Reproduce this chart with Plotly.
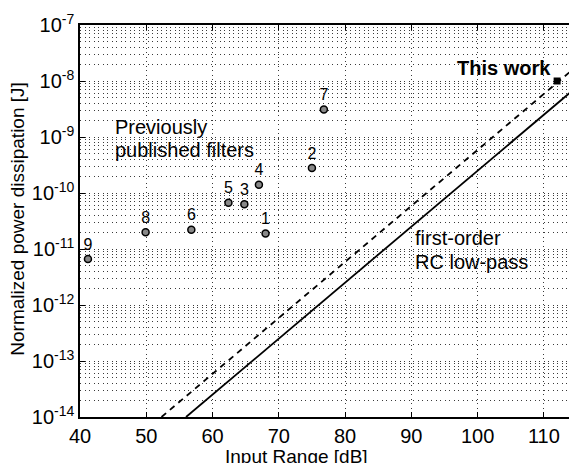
import plotly.graph_objects as go

# Previously published filters
pub_labels = ["1", "2", "3", "4", "5", "6", "7", "8", "9"]
pub_x = [68, 75, 64.8, 67, 62.4, 56.8, 76.8, 49.9, 41.2]
pub_y = [1.9e-11, 2.8e-10, 6.3e-11, 1.4e-10, 6.7e-11, 2.2e-11, 3.1e-9, 2.0e-11, 6.6e-12]

# This work
tw_x = [112]
tw_y = [1.0e-8]

# First-order RC low-pass bound (solid) and dashed line, endpoints
rc_x = [56, 115]
rc_y = [1.0e-14, 7.9e-9]
dash_x = [52.3, 115]
dash_y = [1.0e-14, 1.86e-8]

x_ticks = [40, 50, 60, 70, 80, 90, 100, 110]
y_ticks = [1e-14, 1e-13, 1e-12, 1e-11, 1e-10, 1e-9, 1e-8, 1e-7]
y_ticktext = ["10<sup>-14</sup>", "10<sup>-13</sup>", "10<sup>-12</sup>", "10<sup>-11</sup>",
              "10<sup>-10</sup>", "10<sup>-9</sup>", "10<sup>-8</sup>", "10<sup>-7</sup>"]

FONT = "Liberation Sans, Arial, Helvetica, sans-serif"
GRID = "#3a3a3a"
GDASH = "1px,3.5px"

# page body has an 8px default margin; figure size/margins compensate for it
fig = go.Figure()
fig.add_trace(go.Scatter(x=rc_x, y=rc_y, mode="lines",
                         line=dict(color="black", width=1.8), showlegend=False))
fig.add_trace(go.Scatter(x=dash_x, y=dash_y, mode="lines",
                         line=dict(color="black", width=1.8, dash="6px,5px"), showlegend=False))
fig.add_trace(go.Scatter(x=pub_x, y=pub_y, mode="markers+text",
                         text=pub_labels, textposition="top center",
                         textfont=dict(size=16, color="black", family=FONT),
                         marker=dict(symbol="circle", size=7, color="#888",
                                     line=dict(color="black", width=1.5)),
                         showlegend=False))
fig.add_trace(go.Scatter(x=tw_x, y=tw_y, mode="markers",
                         marker=dict(symbol="square", size=7, color="black"),
                         showlegend=False))

def note(x, y, text, anchor="left", bold=False):
    fig.add_annotation(x=x, y=y, xref="x", yref="y",
                       text=f"<b>{text}</b>" if bold else text,
                       showarrow=False, xanchor=anchor, yanchor="middle",
                       font=dict(size=20, color="black", family=FONT))

note(44.98, -8.82, "Previously")
note(44.98, -9.23, "published filters")
note(111.4, -7.77, "This work", anchor="right", bold=True)
note(90.25, -10.80, "first-order")
note(90.25, -11.23, "RC low-pass")

# axis titles
fig.add_annotation(x=0.4356, y=-0.102, xref="paper", yref="paper",
                   text="Input Range [dB]", showarrow=False,
                   xanchor="center", yanchor="middle",
                   font=dict(size=19, color="black", family=FONT))
fig.add_annotation(x=-0.1247, y=0.506, xref="paper", yref="paper",
                   text="Normalized power dissipation [J]", showarrow=False,
                   textangle=-90, xanchor="center", yanchor="middle",
                   font=dict(size=19, color="black", family=FONT))

fig.update_layout(
    width=569, height=455,
    margin=dict(l=72, r=0, t=17, b=46),
    paper_bgcolor="white", plot_bgcolor="white",
    font=dict(family=FONT, size=20, color="black"),
)
fig.update_xaxes(
    range=[40, 115], tickvals=x_ticks, ticks="inside", ticklen=5,
    tickcolor="black", linecolor="black", linewidth=1.5, mirror="ticks",
    showline=True, showgrid=True, gridcolor=GRID, griddash=GDASH, gridwidth=1,
    zeroline=False, automargin=False, ticklabeloverflow="allow",
    tickfont=dict(size=20),
)
fig.update_yaxes(
    type="log", range=[-14, -7], tickvals=y_ticks, ticktext=y_ticktext,
    ticks="inside", ticklen=5, tickcolor="black", linecolor="black",
    linewidth=1.5, mirror="ticks", showline=True, automargin=False,
    ticklabeloverflow="allow",
    showgrid=True, gridcolor=GRID, griddash=GDASH, gridwidth=1,
    minor=dict(dtick="D1", showgrid=True, gridcolor=GRID, griddash=GDASH,
               gridwidth=1, ticks=""),
    tickfont=dict(size=20),
)

fig.write_html("out.html")
